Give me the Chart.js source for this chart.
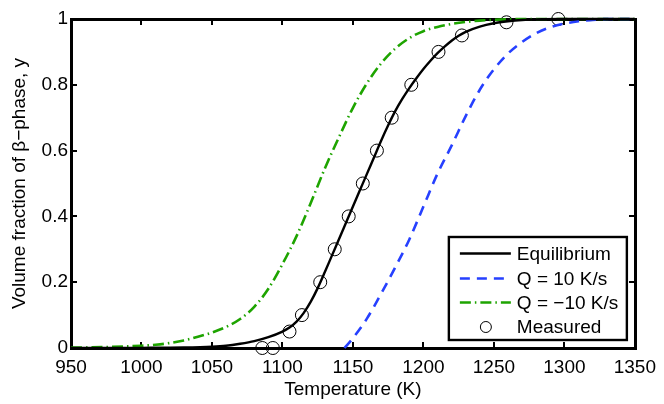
<!DOCTYPE html>
<html>
<head>
<meta charset="utf-8">
<script src="https://cdn.jsdelivr.net/npm/chart.js@4.4.1/dist/chart.umd.min.js"></script>
<style>
  html, body { margin: 0; padding: 0; background: #fff; }
  #wrap { width: 664px; height: 404px; }
</style>
</head>
<body>
<div id="wrap"><canvas id="chart" width="664" height="404"></canvas></div>
<script>
// Fracción de volumen de fase beta frente a temperatura
const xTicks = [950, 1000, 1050, 1100, 1150, 1200, 1250, 1300, 1350];
const yTicks = [0, 0.2, 0.4, 0.6, 0.8, 1];

// Equilibrio (línea negra continua)
const tempEq = [950, 1000, 1030, 1050, 1060, 1070, 1080, 1090, 1100, 1105, 1110, 1115, 1120, 1125,
  1130, 1135, 1140, 1145, 1150, 1155, 1160, 1165, 1170, 1175, 1180, 1185, 1190, 1195, 1200,
  1205, 1210, 1215, 1220, 1225, 1230, 1240, 1250, 1260, 1270, 1280, 1300, 1350];
const fracEq = [0, 0.0005, 0.0015, 0.004, 0.007, 0.013, 0.021, 0.033, 0.05, 0.062, 0.08, 0.106, 0.14, 0.182,
  0.23, 0.28, 0.33, 0.38, 0.43, 0.48, 0.53, 0.58, 0.63, 0.677, 0.72, 0.757, 0.79, 0.82, 0.848,
  0.873, 0.896, 0.916, 0.934, 0.949, 0.961, 0.977, 0.987, 0.993, 0.997, 0.999, 1, 1];

// Calentamiento Q = 10 K/s (azul discontinua)
const tempHeat = [1144, 1150, 1160, 1170, 1180, 1190, 1200, 1210, 1220, 1230, 1240, 1250,
  1260, 1270, 1280, 1290, 1300, 1310, 1320, 1330, 1350];
const fracHeat = [0, 0.03, 0.09, 0.165, 0.245, 0.33, 0.43, 0.53, 0.615, 0.705, 0.785, 0.847,
  0.895, 0.93, 0.957, 0.975, 0.986, 0.993, 0.997, 1, 1];

// Enfriamiento Q = -10 K/s (verde punto-raya)
const tempCool = [950, 975, 1000, 1010, 1020, 1030, 1040, 1050, 1060, 1070, 1080, 1090, 1100, 1110, 1120,
  1130, 1140, 1150, 1160, 1170, 1180, 1190, 1200, 1210, 1220, 1230, 1240, 1260, 1280, 1350];
const fracCool = [0.001, 0.003, 0.007, 0.01, 0.015, 0.023, 0.034, 0.047, 0.064, 0.088, 0.125, 0.18, 0.255, 0.34, 0.44,
  0.545, 0.64, 0.73, 0.805, 0.865, 0.91, 0.942, 0.963, 0.976, 0.985, 0.991, 0.995, 0.999, 1, 1];

// Medidas (círculos)
const tempMeas = [1085.7, 1093.2, 1105, 1113.8, 1126.8, 1137.1, 1147, 1157, 1167, 1177.5,
  1191.4, 1210.7, 1227.3, 1258.9, 1295.7];
const fracMeas = [0, 0, 0.05, 0.1, 0.2, 0.3, 0.4, 0.5, 0.6, 0.7, 0.8, 0.9, 0.95, 0.99, 1.0];

const FONT = '"Liberation Sans", Arial, Helvetica, sans-serif';
const BLUE = '#2640ff';
const GREEN = '#1ea400';
const FRAME = '#000000';

function toPoints(xs, ys) {
  return xs.map((x, i) => ({ x: x, y: ys[i] }));
}

// Marco grueso con marcas hacia dentro (debajo de las curvas, como en MATLAB)
const framePlugin = {
  id: 'frame',
  beforeDatasetsDraw(chart) {
    const { ctx, scales } = chart;
    const L = Math.round(scales.x.left), R = Math.round(scales.x.right);
    const T = Math.round(scales.y.top), B = Math.round(scales.y.bottom);
    const bw = 3, tw = 2, len = 6;
    ctx.save();
    ctx.fillStyle = FRAME;
    xTicks.forEach(v => {
      const px = Math.round(scales.x.getPixelForValue(v));
      ctx.fillRect(px - 1, B - len, tw, len);
      ctx.fillRect(px - 1, T, tw, len);
    });
    yTicks.forEach(v => {
      const py = Math.round(scales.y.getPixelForValue(v));
      ctx.fillRect(L, py - 1, len, tw);
      ctx.fillRect(R - len, py - 1, len, tw);
    });
    ctx.fillRect(L - 1, T - 1, R - L + bw, bw);
    ctx.fillRect(L - 1, B - 1, R - L + bw, bw);
    ctx.fillRect(L - 1, T - 1, bw, B - T + bw);
    ctx.fillRect(R - 1, T - 1, bw, B - T + bw);
    ctx.restore();
  }
};

// Leyenda dentro del área, esquina inferior derecha
const legendPlugin = {
  id: 'boxLegend',
  afterDraw(chart) {
    const { ctx, chartArea: a } = chart;
    const w = 178, h = 103;
    const left = a.right - 8 - w, top = a.bottom - 8 - h;
    ctx.save();
    ctx.setLineDash([]);
    ctx.fillStyle = '#fff';
    ctx.fillRect(left, top, w, h);
    ctx.strokeStyle = '#000';
    ctx.lineWidth = 2.4;
    ctx.strokeRect(left, top, w, h);

    const rows = [16.5, 41.5, 65.5, 90];
    chart.data.datasets.forEach((ds, i) => {
      const y = top + rows[i];
      if (ds.showLine === false) {
        ctx.beginPath();
        ctx.lineWidth = 1;
        ctx.strokeStyle = '#000';
        ctx.setLineDash([]);
        ctx.arc(left + 37, y, 5.5, 0, Math.PI * 2);
        ctx.stroke();
      } else {
        ctx.beginPath();
        ctx.lineWidth = ds.borderWidth;
        ctx.strokeStyle = ds.borderColor;
        ctx.setLineDash(ds.borderDash || []);
        ctx.moveTo(left + 11, y);
        ctx.lineTo(left + 62, y);
        ctx.stroke();
      }
      ctx.setLineDash([]);
      ctx.fillStyle = '#000';
      ctx.font = '19px ' + FONT;
      ctx.textBaseline = 'middle';
      ctx.textAlign = 'left';
      ctx.fillText(ds.label, left + 68, y + 1);
    });
    ctx.restore();
  }
};

const canvas = document.getElementById('chart');
new Chart(canvas, {
  type: 'scatter',
  data: {
    datasets: [
      {
        label: 'Equilibrium',
        data: toPoints(tempEq, fracEq),
        showLine: true,
        borderColor: '#000',
        borderWidth: 2.4,
        pointRadius: 0,
        clip: false,
        cubicInterpolationMode: 'monotone'
      },
      {
        label: 'Q = 10 K/s',
        data: toPoints(tempHeat, fracHeat),
        showLine: true,
        borderColor: BLUE,
        borderWidth: 2.6,
        borderDash: [10, 7],
        pointRadius: 0,
        clip: false,
        cubicInterpolationMode: 'monotone'
      },
      {
        label: 'Q = \u221210 K/s',
        data: toPoints(tempCool, fracCool),
        showLine: true,
        borderColor: GREEN,
        borderWidth: 2.6,
        borderDash: [11, 4, 1.5, 4],
        pointRadius: 0,
        clip: false,
        cubicInterpolationMode: 'monotone'
      },
      {
        label: 'Measured',
        data: toPoints(tempMeas, fracMeas),
        showLine: false,
        pointStyle: 'circle',
        pointRadius: 6.5,
        pointBorderWidth: 1,
        pointBorderColor: '#000',
        pointBackgroundColor: 'rgba(0,0,0,0)',
        clip: false
      }
    ]
  },
  options: {
    responsive: false,
    animation: false,
    devicePixelRatio: 1,
    layout: { padding: { left: 0, top: 19, right: 28, bottom: 0 } },
    plugins: {
      legend: { display: false },
      tooltip: { enabled: false }
    },
    scales: {
      x: {
        type: 'linear',
        min: 950,
        max: 1350,
        afterBuildTicks(scale) { scale.ticks = xTicks.map(v => ({ value: v })); },
        afterFit(scale) { scale.height = 56; },
        grid: { display: false, drawTicks: false },
        border: { display: false },
        ticks: {
          color: '#000',
          padding: 8,
          maxRotation: 0,
          font: { family: FONT, size: 19 },
          callback: v => String(v)
        },
        title: {
          display: true,
          text: 'Temperature (K)',
          color: '#000',
          font: { family: FONT, size: 19 },
          padding: { top: 0, bottom: 3 }
        }
      },
      y: {
        type: 'linear',
        min: 0,
        max: 1,
        afterBuildTicks(scale) { scale.ticks = yTicks.map(v => ({ value: v })); },
        afterFit(scale) { scale.width = 71; },
        grid: { display: false, drawTicks: false },
        border: { display: false },
        ticks: {
          color: '#000',
          padding: 3,
          font: { family: FONT, size: 19 },
          callback: v => String(v)
        },
        title: {
          display: true,
          text: 'Volume fraction of \u03b2\u2212phase, y',
          color: '#000',
          font: { family: FONT, size: 19 },
          padding: { top: 8, bottom: 0 }
        }
      }
    }
  },
  plugins: [framePlugin, legendPlugin]
});
</script>
</body>
</html>
